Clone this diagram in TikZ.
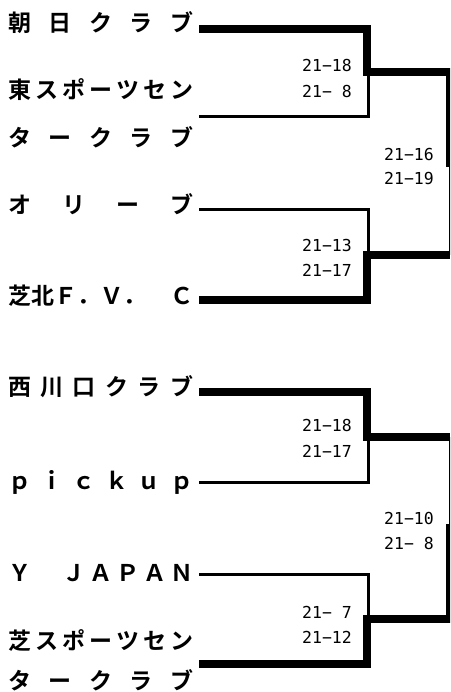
\documentclass[tikz,border=0pt]{standalone}
\usepackage{fontspec}
\newfontfamily\namefont{Noto Sans CJK JP Bold}
\newfontfamily\scorefont{DejaVu Sans Mono}
\newcommand\spreadname[1]{\makebox[185pt][l]{#1}}

\begin{document}
\begin{tikzpicture}[x=1pt,y=-1pt]
\tikzstyle{team}=[anchor=west,inner sep=0pt,font=\namefont\fontsize{23pt}{23pt}\selectfont]
\tikzstyle{score}=[anchor=east,inner sep=0pt,font=\scorefont\fontsize{16.5pt}{16.5pt}\selectfont]
\tikzstyle{won}=[line width=7.5pt,line join=miter]
\tikzstyle{lost}=[line width=3pt,line join=miter]
\useasboundingbox (0,0) rectangle (450,692);
\clip (0,0) rectangle (450,692);
\begin{scope}
\node[team] (asahi) at (8,22.5) {\spreadname{朝\hfill 日\hfill ク\hfill ラ\hfill ブ}};
\node[team] (higashi) at (8,90) {\spreadname{東\hfill ス\hfill ポ\hfill ー\hfill ツ\hfill セ\hfill ン}};
\node[team] (higashi2) at (8,137.5) {\spreadname{タ\hfill ー\hfill ク\hfill ラ\hfill ブ}};
\node[team] (olive) at (8,204) {\spreadname{オ\hfill リ\hfill ー\hfill ブ}};
\node[team] (shibakita) at (8,296) {\spreadname{芝北Ｆ．Ｖ．\hfill Ｃ}};
\foreach \t/\y in {asahi/29,higashi/117,olive/210,shibakita/300}{
\coordinate (\t-in) at (199,\y);
};
\coordinate (m1) at (367,72);
\coordinate (m2) at (367,255);
\coordinate (f1top) at (450,72);
\coordinate (f1mid) at (450,167);
\coordinate (f1bot) at (450,255);
\draw[lost] (higashi-in) -| ([xshift=1.5pt]m1);
\draw[lost] (olive-in) -| ([xshift=1.5pt]m2);
\draw[lost] (f1mid) -- (f1bot);
\draw[won] (asahi-in) -| (m1) -- (f1top) -- (f1mid);
\draw[won] (shibakita-in) -| (m2) -- (f1bot);
\end{scope}
\begin{scope}
\node[team] (nishi) at (8,387) {\spreadname{西\hfill 川\hfill 口\hfill ク\hfill ラ\hfill ブ}};
\node[team] (pickup) at (8,482) {\spreadname{ｐ\hfill ｉ\hfill ｃ\hfill ｋ\hfill ｕ\hfill ｐ}};
\node[team] (yjapan) at (8,573.5) {\spreadname{Ｙ\hfill 　\hfill Ｊ\hfill Ａ\hfill Ｐ\hfill Ａ\hfill Ｎ}};
\node[team] (shibasp) at (8,640) {\spreadname{芝\hfill ス\hfill ポ\hfill ー\hfill ツ\hfill セ\hfill ン}};
\node[team] (shibasp2) at (8,680) {\spreadname{タ\hfill ー\hfill ク\hfill ラ\hfill ブ}};
\foreach \t/\y in {nishi/392,pickup/482,yjapan/574,shibasp/664}{
\coordinate (\t-in) at (199,\y);
};
\coordinate (m3) at (367,437);
\coordinate (m4) at (367,619);
\coordinate (f2top) at (450,437);
\coordinate (f2mid) at (450,524);
\coordinate (f2bot) at (450,619);
\draw[lost] (pickup-in) -| ([xshift=1.5pt]m3);
\draw[lost] (yjapan-in) -| ([xshift=1.5pt]m4);
\draw[lost] (f2top) -- (f2mid);
\draw[won] (nishi-in) -| (m3) -- (f2top);
\draw[won] (shibasp-in) -| (m4) -- (f2bot) -- (f2mid);
\end{scope}
\foreach \n/\x/\y/\s in {s1a/352/65/21−18,s1b/352/91/21− 8,s2a/352/245/21−13,s2b/352/270/21−17,
f1a/434/154/21−16,f1b/434/178/21−19,s3a/352/425/21−18,s3b/352/451/21−17,
f2a/434/518/21−10,f2b/434/543/21− 8,s4a/352/612/21− 7,s4b/352/637/21−12}{
\node[score] (\n) at (\x,\y) {\s};
};
\end{tikzpicture}
\end{document}
